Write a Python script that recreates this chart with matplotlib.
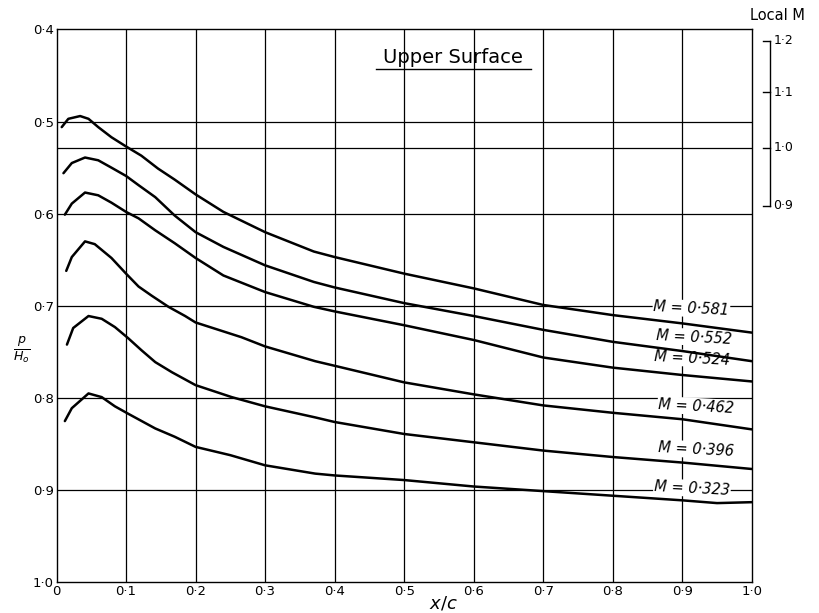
import numpy as np
import matplotlib
matplotlib.use("Agg")
import matplotlib.pyplot as plt
import matplotlib.transforms as mtransforms

# ---------------- data ----------------
mach_labels = ["0·581", "0·552", "0·524", "0·462", "0·396", "0·323"]

x_581 = [0.0075, 0.017, 0.034, 0.046, 0.060, 0.079, 0.1, 0.122, 0.146, 0.17, 0.2, 0.24, 0.3, 0.37, 0.4, 0.5, 0.6, 0.7, 0.8, 0.9, 1.0]
p_581 = [0.506, 0.497, 0.494, 0.497, 0.506, 0.517, 0.527, 0.537, 0.551, 0.563, 0.579, 0.598, 0.620, 0.641, 0.647, 0.665, 0.681, 0.699, 0.710, 0.719, 0.729]

x_552 = [0.01, 0.022, 0.041, 0.06, 0.079, 0.1, 0.118, 0.142, 0.17, 0.2, 0.24, 0.3, 0.37, 0.4, 0.5, 0.6, 0.7, 0.8, 0.9, 1.0]
p_552 = [0.556, 0.545, 0.539, 0.542, 0.550, 0.559, 0.569, 0.582, 0.602, 0.620, 0.636, 0.656, 0.674, 0.680, 0.697, 0.711, 0.726, 0.739, 0.749, 0.760]

x_524 = [0.012, 0.022, 0.041, 0.06, 0.079, 0.1, 0.118, 0.142, 0.17, 0.2, 0.24, 0.3, 0.37, 0.4, 0.5, 0.6, 0.7, 0.8, 0.9, 1.0]
p_524 = [0.601, 0.589, 0.577, 0.580, 0.588, 0.598, 0.605, 0.618, 0.632, 0.648, 0.667, 0.685, 0.701, 0.706, 0.721, 0.737, 0.756, 0.767, 0.775, 0.782]

x_462 = [0.014, 0.022, 0.041, 0.055, 0.079, 0.1, 0.118, 0.137, 0.161, 0.185, 0.2, 0.266, 0.3, 0.372, 0.4, 0.5, 0.6, 0.7, 0.8, 0.9, 1.0]
p_462 = [0.662, 0.647, 0.630, 0.633, 0.648, 0.665, 0.679, 0.689, 0.701, 0.711, 0.718, 0.734, 0.744, 0.760, 0.765, 0.783, 0.796, 0.808, 0.816, 0.823, 0.834]

x_396 = [0.015, 0.024, 0.046, 0.065, 0.084, 0.103, 0.122, 0.142, 0.166, 0.2, 0.252, 0.3, 0.372, 0.4, 0.5, 0.6, 0.7, 0.8, 0.9, 1.0]
p_396 = [0.742, 0.724, 0.711, 0.714, 0.723, 0.735, 0.748, 0.761, 0.772, 0.786, 0.799, 0.809, 0.821, 0.826, 0.839, 0.848, 0.857, 0.864, 0.870, 0.877]

x_323 = [0.012, 0.022, 0.046, 0.065, 0.084, 0.103, 0.142, 0.17, 0.2, 0.25, 0.3, 0.372, 0.4, 0.5, 0.6, 0.7, 0.8, 0.9, 0.95, 1.0]
p_323 = [0.825, 0.811, 0.795, 0.799, 0.809, 0.817, 0.833, 0.842, 0.853, 0.862, 0.873, 0.882, 0.884, 0.889, 0.896, 0.901, 0.906, 0.911, 0.914, 0.913]

series_x = [x_581, x_552, x_524, x_462, x_396, x_323]
series_p = [p_581, p_552, p_524, p_462, p_396, p_323]

# label anchor positions (x/c, p/H0)
label_x = [0.913, 0.917, 0.914, 0.920, 0.920, 0.914]
label_y = [0.703, 0.734, 0.757, 0.809, 0.856, 0.898]

x_ticks = [0.0, 0.1, 0.2, 0.3, 0.4, 0.5, 0.6, 0.7, 0.8, 0.9, 1.0]
x_ticklabels = ["0", "0·1", "0·2", "0·3", "0·4", "0·5", "0·6", "0·7", "0·8", "0·9", "1·0"]
y_ticks = [0.4, 0.5, 0.6, 0.7, 0.8, 0.9, 1.0]
y_ticklabels = ["0·4", "0·5", "0·6", "0·7", "0·8", "0·9", "1·0"]

local_M = [0.9, 1.0, 1.1, 1.2]
local_M_labels = ["0·9", "1·0", "1·1", "1·2"]
gamma = 1.4


def p_over_H(M):
    return (1 + (gamma - 1) / 2 * M ** 2) ** (-gamma / (gamma - 1))


# ---------------- figure ----------------
fig = plt.figure(figsize=(8.19, 6.13), dpi=100)
ax = fig.add_axes([0.069, 0.05, 0.849, 0.902])
ax.set_xlim(0, 1)
ax.set_ylim(1.0, 0.4)

for s in ax.spines.values():
    s.set_linewidth(1.0)
    s.set_color("black")

# grid
for xv in x_ticks[1:-1]:
    ax.axvline(xv, color="black", lw=0.9, zorder=1)
for yv in y_ticks[1:-1]:
    ax.axhline(yv, color="black", lw=0.9, zorder=1)
# sonic line (local M = 1)
ax.axhline(p_over_H(1.0), color="black", lw=0.9, zorder=1)

# curves
for xs, ps in zip(series_x, series_p):
    ax.plot(xs, ps, color="black", lw=1.8, zorder=3, solid_capstyle="round",
            solid_joinstyle="round")

# labels
for lab, lx, ly in zip(mach_labels, label_x, label_y):
    ax.text(lx, ly, "M = " + lab, ha="center", va="center", fontsize=10.5,
            style="italic", rotation=-3, zorder=2.5,
            bbox=dict(facecolor="white", edgecolor="none", pad=0.6))

# ticks
ax.set_xticks(x_ticks)
ax.set_xticklabels(x_ticklabels, fontsize=9.5)
ax.set_yticks(y_ticks)
ax.set_yticklabels(y_ticklabels, fontsize=9.5)
ax.tick_params(length=0, pad=2)

ax.text(0.556, -0.038, r"$x/c$", transform=ax.transAxes, ha="center", va="center",
        fontsize=13)
ax.text(-0.05, 0.42, r"$\frac{p}{H_o}$", transform=ax.transAxes, ha="center",
        va="center", fontsize=13)

# title
ax.text(0.57, 0.430, "Upper Surface", ha="center", va="center", fontsize=14)
ax.plot([0.46, 0.683], [0.443, 0.443], color="black", lw=1.0, zorder=3)

# local M scale
trans = mtransforms.blended_transform_factory(ax.transAxes, ax.transData)
ys = [p_over_H(m) for m in local_M]
ax.plot([1.026, 1.026], [min(ys), max(ys)], color="black", lw=1.0,
        transform=trans, clip_on=False)
for yv, lab in zip(ys, local_M_labels):
    ax.plot([1.016, 1.026], [yv, yv], color="black", lw=1.0, transform=trans,
            clip_on=False)
    ax.text(1.031, yv, lab, transform=trans, ha="left", va="center", fontsize=9)
ax.text(0.997, 1.012, "Local M", transform=ax.transAxes, ha="left", va="bottom",
        fontsize=10.5)

fig.savefig("out.png", dpi=100, facecolor="white")
